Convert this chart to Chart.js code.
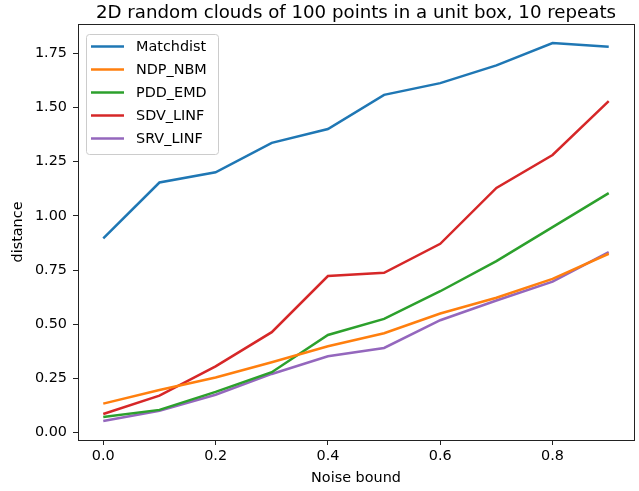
<!DOCTYPE html>
<html>
<head>
<meta charset="utf-8">
<script src="https://cdn.jsdelivr.net/npm/chart.js@4"></script>
<style>
  html, body { margin: 0; padding: 0; background: #fff; }
  #wrap { width: 639px; height: 491px; }
</style>
</head>
<body>
<div id="wrap"><canvas id="chart" width="639" height="491"></canvas></div>
<script>
const noise = [0.0, 0.1, 0.2, 0.3, 0.4, 0.5, 0.6, 0.7, 0.8, 0.9];
const matchdist = [0.896, 1.154, 1.201, 1.337, 1.401, 1.559, 1.613, 1.695, 1.798, 1.781];
const ndpNbm = [0.133, 0.196, 0.254, 0.324, 0.398, 0.458, 0.549, 0.622, 0.709, 0.825];
const pddEmd = [0.071, 0.104, 0.187, 0.278, 0.450, 0.524, 0.652, 0.791, 0.948, 1.105];
const sdvLinf = [0.085, 0.170, 0.305, 0.463, 0.722, 0.737, 0.871, 1.129, 1.281, 1.530];
const srvLinf = [0.053, 0.100, 0.174, 0.270, 0.352, 0.390, 0.518, 0.609, 0.696, 0.833];
const xTicks = [0.0, 0.2, 0.4, 0.6, 0.8];
const yTicks = [0.0, 0.25, 0.5, 0.75, 1.0, 1.25, 1.5, 1.75];

const font = "'DejaVu Sans', sans-serif";
const textSize = 14.4;

const series = [
    { label: 'Matchdist', data: matchdist, color: '#1f77b4' },
    { label: 'NDP_NBM', data: ndpNbm, color: '#ff7f0e' },
    { label: 'PDD_EMD', data: pddEmd, color: '#2ca02c' },
    { label: 'SDV_LINF', data: sdvLinf, color: '#d62728' },
    { label: 'SRV_LINF', data: srvLinf, color: '#9467bd' },
];

// frame, title and legend box drawn on top of the plot
const decorations = {
    id: 'decorations',
    afterDraw(chart) {
        const { ctx, chartArea: a } = chart;
        ctx.save();
        ctx.strokeStyle = '#222';
        ctx.lineWidth = 1;
        ctx.strokeRect(Math.round(a.left) + 0.5, Math.round(a.top) + 0.5,
            Math.round(a.right - a.left), Math.round(a.bottom - a.top));

        ctx.fillStyle = '#000';
        ctx.font = `18.2px ${font}`;
        ctx.textAlign = 'center';
        ctx.textBaseline = 'alphabetic';
        ctx.fillText('2D random clouds of 100 points in a unit box, 10 repeats', (a.left + a.right) / 2, 17.5);

        // legend
        const bx = 86, by = 34, bw = 132, bh = 120, r = 3;
        ctx.globalAlpha = 0.8;
        ctx.fillStyle = '#fff';
        ctx.beginPath();
        ctx.roundRect(bx + 0.5, by + 0.5, bw, bh, r);
        ctx.fill();
        ctx.globalAlpha = 1;
        ctx.strokeStyle = '#cccccc';
        ctx.stroke();

        ctx.font = `${textSize}px ${font}`;
        ctx.textAlign = 'left';
        ctx.textBaseline = 'middle';
        chart.data.datasets.forEach((ds, i) => {
            const y = 46.5 + i * 23;
            ctx.strokeStyle = ds.borderColor;
            ctx.lineWidth = 2.5;
            ctx.beginPath();
            ctx.moveTo(91, y);
            ctx.lineTo(124, y);
            ctx.stroke();
            ctx.fillStyle = '#000';
            ctx.fillText(ds.label, 136, y + 1);
        });
        ctx.restore();
    },
};

new Chart(document.getElementById('chart'), {
    type: 'line',
    data: {
        datasets: series.map((s) => ({
            label: s.label,
            data: noise.map((x, i) => ({ x, y: s.data[i] })),
            borderColor: s.color,
            backgroundColor: s.color,
            borderWidth: 2.5,
            pointRadius: 0,
            tension: 0,
        })),
    },
    options: {
        responsive: false,
        animation: false,
        layout: { padding: { top: 24, right: 5, left: 0, bottom: 0 } },
        plugins: {
            legend: { display: false },
            tooltip: { enabled: false },
            title: { display: false },
        },
        scales: {
            x: {
                type: 'linear',
                min: -0.045,
                max: 0.945,
                afterBuildTicks(axis) { axis.ticks = xTicks.map((value) => ({ value })); },
                afterFit(axis) { axis.height = 51; },
                grid: { drawOnChartArea: false, tickLength: 5, tickColor: '#222', tickWidth: 1 },
                border: { color: '#222' },
                ticks: {
                    color: '#000',
                    font: { family: font, size: textSize },
                    padding: 3,
                    maxRotation: 0,
                    callback: (v) => v.toFixed(1),
                },
                title: {
                    display: true,
                    text: 'Noise bound',
                    color: '#000',
                    font: { family: font, size: textSize },
                    padding: { top: 0, bottom: 4 },
                },
            },
            y: {
                min: -0.035,
                max: 1.886,
                afterBuildTicks(axis) { axis.ticks = yTicks.map((value) => ({ value })); },
                afterFit(axis) { axis.width = 78; },
                grid: { drawOnChartArea: false, tickLength: 5, tickColor: '#222', tickWidth: 1 },
                border: { color: '#222' },
                ticks: {
                    color: '#000',
                    font: { family: font, size: textSize },
                    padding: 6,
                    callback: (v) => v.toFixed(2),
                },
                title: {
                    display: true,
                    text: 'distance',
                    color: '#000',
                    font: { family: font, size: textSize },
                    padding: { top: 10, bottom: 0 },
                },
            },
        },
    },
    plugins: [decorations],
});
</script>
</body>
</html>
